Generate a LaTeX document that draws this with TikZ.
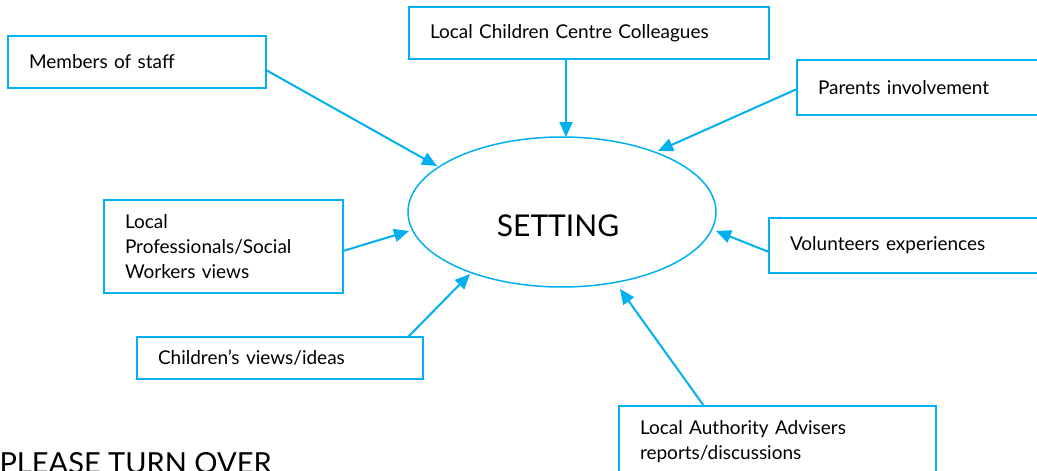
\documentclass[tikz,border=0pt]{standalone}
\usepackage{fontspec}
\setmainfont{Lato}
\usetikzlibrary{arrows.meta,shapes.geometric}
\definecolor{lb}{HTML}{00B0F0}
\begin{document}
\begin{tikzpicture}[x=1pt,y=-1pt,
  box/.style={draw=lb, line width=2pt, anchor=north west, outer sep=0pt,
    inner xsep=21pt, inner ysep=0pt, align=left,
    font=\fontsize{19}{25}\selectfont},
  conn/.style={draw=lb, line width=2pt, -{Triangle[length=15pt,width=13pt]}},
  oval/.style={ellipse, draw=lb, line width=1.5pt, inner sep=0pt, outer sep=0pt}]
\useasboundingbox (0,0) rectangle (1037,471);
\clip (0,0) rectangle (1037,471);

\node[oval, minimum width=308pt, minimum height=150pt] (setting) at (562,212) {};
\node[font=\fontsize{30}{36}\selectfont] (settinglabel) at (558,226) {SETTING};

\node[box, minimum height=52pt, text width=216pt] (staff) at (8,36) {Members of staff};
\node[box, minimum height=52pt, text width=318pt] (coll) at (409,7) {Local Children Centre Colleagues};
\node[box, minimum height=55pt, text width=228pt] (par) at (797,60) {Parents involvement};
\node[box, minimum height=93pt, text width=197pt] (prof) at (104,200) {Local\\Professionals/Social\\Workers views};
\node[box, minimum height=42pt, text width=244pt] (child) at (137,337) {Children’s views/ideas};
\node[box, minimum height=55pt, text width=228pt] (vol) at (769,218) {Volunteers experiences};
\node[box, minimum height=72pt, text width=275pt] (auth) at (619,406) {Local Authority Advisers\\reports/discussions};

\node[anchor=base west, font=\fontsize{29}{33}\selectfont] (turn) at (-4,473) {PLEASE TURN OVER};

\coordinate (tstaff) at (437,166);
\coordinate (tcoll) at (566,137);
\coordinate (tpar) at (658,151);
\coordinate (tprof) at (409,231);
\coordinate (tchild) at (470,274);
\coordinate (tvol) at (716,231);
\coordinate (tauth) at (620,289);

\draw[conn] ([yshift=-34pt]staff.north east) -- (tstaff);
\draw[conn] ([xshift=157pt]coll.south west) -- (tcoll);
\draw[conn] ([yshift=-29pt]par.north west) -- (tpar);
\draw[conn] ([yshift=-51pt]prof.north east) -- (tprof);
\draw[conn] ([xshift=-15pt]child.north east) -- (tchild);
\draw[conn] ([yshift=-34pt]vol.north west) -- (tvol);
\draw[conn] ([xshift=85pt]auth.north west) -- (tauth);
\end{tikzpicture}
\end{document}
